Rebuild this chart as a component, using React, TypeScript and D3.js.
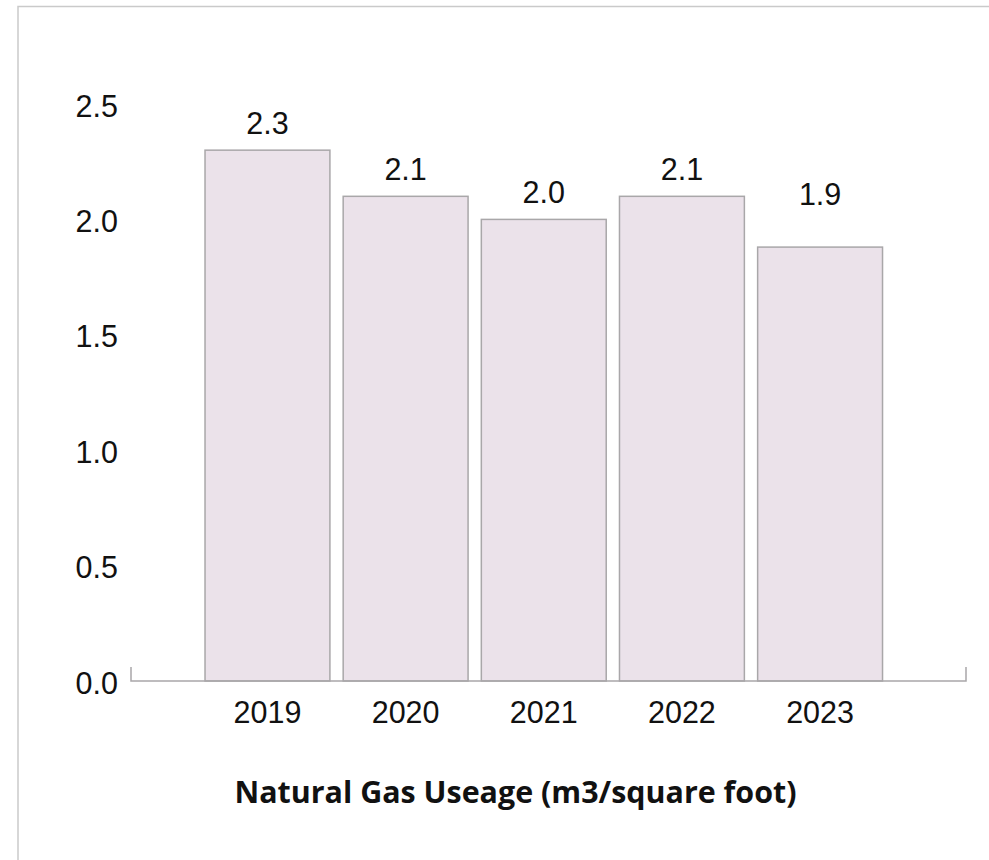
import React from "react";
import * as d3 from "d3";

const years = ["2019", "2020", "2021", "2022", "2023"];
const usage = [2.3, 2.1, 2.0, 2.1, 1.88];
const labelAnchor = [2.3, 2.1, 2.0, 2.1, 1.99];
const yTicks = [0, 0.5, 1.0, 1.5, 2.0, 2.5];
const title = "Natural Gas Useage (m3/square foot)";

const W = 989;
const H = 860;
const axisLeft = 131;
const axisRight = 966;
const baseY = 681;
const topY = 104;

export default function App() {
  const x = d3
    .scaleBand<string>()
    .domain(years)
    .range([axisLeft, axisRight])
    .paddingInner(0.096)
    .paddingOuter(0.57)
    .align(0.47);
  const y = d3.scaleLinear().domain([0, 2.5]).range([baseY, topY]);
  const fmt = d3.format(".1f");
  const font = "'Liberation Sans', Arial, Helvetica, sans-serif";
  const fs = 30.5;

  return (
    <svg
      width={W}
      height={H}
      style={{ position: "fixed", left: 0, top: 0, background: "#fff", display: "block" }}
    >
      <rect x={18} y={6.5} width={W + 20} height={H + 20} fill="#fff" stroke="#cacaca" strokeWidth={1.5} />
      {yTicks.map((t) => (
        <text
          key={t}
          x={118}
          y={y(t) + 2}
          dy="0.35em"
          textAnchor="end"
          fontFamily={font}
          fontSize={fs}
          fill="#111"
        >
          {fmt(t)}
        </text>
      ))}
      {years.map((yr, i) => (
        <rect
          key={yr}
          x={x(yr)}
          y={y(usage[i])}
          width={x.bandwidth()}
          height={baseY - y(usage[i])}
          fill="#ebe2ea"
          stroke="#a9a7a9"
          strokeWidth={1.5}
        />
      ))}
      {years.map((yr, i) => (
        <text
          key={"v" + yr}
          x={(x(yr) as number) + x.bandwidth() / 2}
          y={y(labelAnchor[i]) - 27}
          dy="0.35em"
          textAnchor="middle"
          fontFamily={font}
          fontSize={fs}
          fill="#111"
        >
          {fmt(usage[i])}
        </text>
      ))}
      <path
        d={`M${axisLeft},${baseY - 14}V${baseY}H${axisRight}V${baseY - 14}`}
        fill="none"
        stroke="#a9a7a9"
        strokeWidth={1.5}
      />
      {years.map((yr) => (
        <text
          key={"x" + yr}
          x={(x(yr) as number) + x.bandwidth() / 2}
          y={723}
          textAnchor="middle"
          fontFamily={font}
          fontSize={fs}
          fill="#111"
        >
          {yr}
        </text>
      ))}
      <text
        x={515.5}
        y={803}
        textAnchor="middle"
        fontFamily="'Open Sans', sans-serif"
        fontWeight={700}
        fontSize={30}
        textLength={562}
        lengthAdjust="spacingAndGlyphs"
        fill="#111"
      >
        {title}
      </text>
    </svg>
  );
}
